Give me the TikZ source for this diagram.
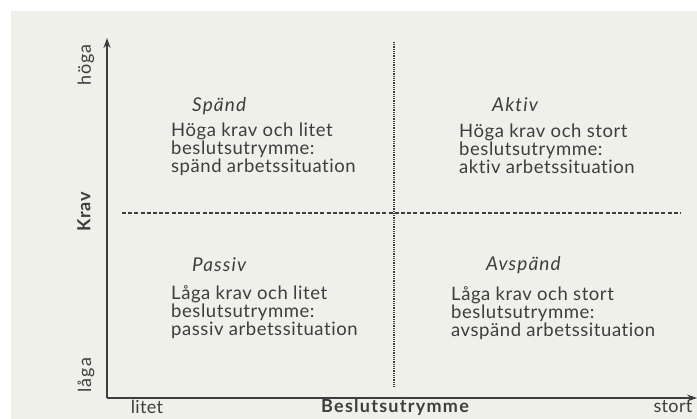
\documentclass[tikz,border=0pt]{standalone}
\usepackage{fontspec}
\setmainfont{Lato}[Ligatures=NoCommon]
\usetikzlibrary{arrows.meta}
\definecolor{pagebg}{RGB}{238,240,233}
\definecolor{ink}{RGB}{62,62,62}
\tikzset{
  ax/.style={draw=ink, line width=1.5pt, -{Stealth[length=10pt,width=7pt]}},
  dotline/.style={draw=ink, line width=1.4pt, dash pattern=on 0.9pt off 0.9pt},
  dashline/.style={draw=ink, line width=1.2pt, dash pattern=on 4pt off 2.2pt},
  qtitle/.style={text=ink, font=\fontsize{19}{19}\selectfont\itshape\addfontfeatures{LetterSpace=6}, anchor=base west, inner sep=0pt},
  qbody/.style={text=ink, font=\fontsize{18.5}{18.3}\selectfont\addfontfeatures{LetterSpace=3}, anchor=base west, align=left, inner sep=0pt},
  axlbl/.style={text=ink, font=\fontsize{18}{18}\selectfont\addfontfeatures{LetterSpace=2}, inner sep=0pt},
  axlblv/.style={text=ink, font=\fontsize{18}{18}\selectfont\addfontfeatures{LetterSpace=6}, inner sep=0pt, rotate=90},
}
\begin{document}
\begin{tikzpicture}[x=1pt,y=-1pt]
\useasboundingbox (0,0) rectangle (697,419);
\fill[white] (0,0) rectangle (697,419);
\fill[pagebg] (11,11) rectangle (697,419);
% axes
\coordinate (O) at (107,398);
\coordinate (Ytop) at (107,38);
\coordinate (Xend) at (697,398);
\coordinate (vtop) at (394,42);
\coordinate (vbot) at (394,386);
\coordinate (hl) at (122,213);
\coordinate (hr) at (681,213);
\draw[dotline] (vtop) -- (vbot);
\draw[dashline] (hl) -- (hr);
\draw[ax] (O) -- (Ytop);
\draw[ax] (O) -- (Xend);
% axis labels
\node[axlblv] (hoga) at (86,65) {höga};
\node[axlblv, font=\fontsize{18}{18}\selectfont\bfseries\addfontfeatures{LetterSpace=4}] (krav) at (84,212) {Krav};
\node[axlblv] (laga) at (86,375) {låga};
\node[axlbl] (litet) at (147,407) {litet};
\node[axlbl, font=\fontsize{18}{18}\selectfont\bfseries\addfontfeatures{LetterSpace=7}] (besl) at (395,407) {Beslutsutrymme};
\node[axlbl] (stort) at (673,407) {stort};
% quadrants (body nodes anchored at the baseline of their last line)
\node[qtitle] (spand) at (192,112) {Spänd};
\node[qbody] (spandt) at (171,173) {Höga krav och litet\\beslutsutrymme:\\spänd arbetssituation};
\node[qtitle] (aktiv) at (492,112) {Aktiv};
\node[qbody] (aktivt) at (459,174) {Höga krav och stort\\beslutsutrymme:\\aktiv arbetssituation};
\node[qtitle] (passiv) at (192,272) {Passiv};
\node[qbody] (passivt) at (171,336) {Låga krav och litet\\beslutsutrymme:\\passiv arbetssituation};
\node[qtitle] (avsp) at (486,271) {Avspänd};
\node[qbody] (avspt) at (451,337) {Låga krav och stort\\beslutsutrymme:\\avspänd arbetssituation};
\end{tikzpicture}
\end{document}
